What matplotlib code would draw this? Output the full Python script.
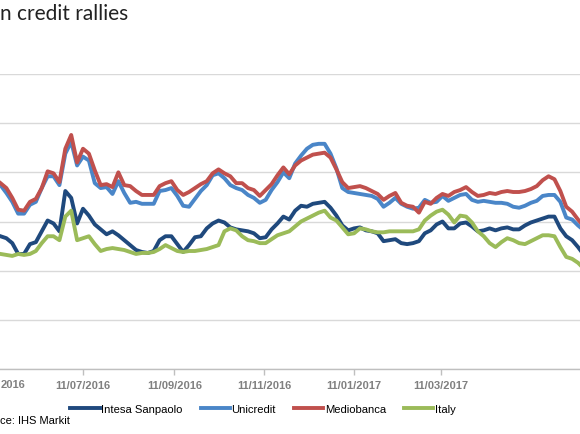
import matplotlib
matplotlib.use("Agg")
import matplotlib.pyplot as plt
import pandas as pd

# spreads, one value every 4 days from 16/05/2016
dates = pd.date_range("2016-05-16", periods=100, freq="4D")

intesa = [135, 133, 128, 117, 117, 127, 129, 140, 151, 148,
          140, 181, 174, 148, 163, 156, 147, 142, 137, 140,
          136, 131, 126, 121, 119, 118, 120, 131, 135, 135,
          127, 119, 126, 134, 135, 143, 148, 151, 149, 144,
          142, 141, 140, 138, 133, 134, 142, 148, 155, 152,
          161, 166, 165, 168, 169, 170, 164, 156, 146, 141,
          143, 144, 141, 140, 138, 130, 131, 132, 128, 127,
          128, 130, 138, 141, 147, 150, 143, 143, 148, 149,
          145, 140, 141, 143, 141, 143, 144, 142, 142, 146,
          149, 151, 153, 155, 155, 143, 135, 131, 124, 116]

unicredit = [187, 179, 170, 158, 158, 167, 170, 184, 196, 196,
             187, 219, 231, 207, 216, 212, 189, 184, 185, 178,
             191, 179, 169, 170, 168, 168, 168, 181, 182, 184,
             176, 166, 165, 173, 181, 187, 197, 199, 194, 187,
             184, 182, 177, 174, 169, 172, 182, 190, 200, 194,
             209, 217, 224, 228, 229, 229, 219, 204, 184, 180,
             179, 178, 177, 176, 173, 165, 169, 174, 168, 165,
             163, 164, 172, 169, 170, 176, 171, 174, 177, 178,
             172, 170, 171, 170, 169, 169, 168, 165, 164, 166,
             169, 171, 176, 177, 177, 170, 154, 152, 146, 141]

mediobanca = [189, 184, 174, 162, 161, 170, 173, 184, 201, 199,
              190, 224, 238, 210, 224, 219, 202, 187, 188, 185,
              200, 187, 186, 181, 177, 177, 177, 186, 189, 191,
              182, 177, 180, 184, 188, 191, 199, 203, 199, 196,
              189, 189, 184, 182, 176, 182, 188, 197, 205, 198,
              207, 212, 215, 218, 219, 220, 215, 203, 190, 184,
              185, 186, 184, 181, 178, 172, 176, 179, 169, 166,
              165, 159, 170, 168, 174, 178, 176, 180, 182, 185,
              180, 176, 177, 179, 178, 180, 181, 180, 180, 181,
              183, 186, 192, 196, 193, 181, 165, 160, 152, 145]

italy = [117, 116, 115, 117, 116, 117, 120, 128, 135, 135,
         131, 155, 161, 131, 133, 135, 127, 120, 122, 123,
         122, 121, 119, 117, 118, 118, 119, 122, 126, 123,
         120, 119, 120, 120, 121, 122, 124, 126, 140, 143,
         141, 135, 131, 130, 128, 128, 132, 136, 138, 140,
         145, 150, 153, 156, 159, 161, 154, 151, 144, 137,
         138, 143, 142, 140, 139, 139, 140, 140, 140, 140,
         140, 142, 151, 156, 160, 162, 157, 149, 156, 155,
         149, 140, 135, 128, 124, 129, 133, 131, 128, 127,
         130, 133, 136, 136, 135, 124, 114, 112, 108, 102]

names = ["Intesa Sanpaolo", "Unicredit", "Mediobanca", "Italy"]
colors = ["#1f497d", "#4a86c8", "#c0504d", "#9bbb59"]
series = [intesa, unicredit, mediobanca, italy]

tick_dates = ["2016-05-11", "2016-07-11", "2016-09-11",
              "2016-11-11", "2017-01-11", "2017-03-11"]

W, H = 580, 435
fig = plt.figure(figsize=(W / 100, H / 100), dpi=100)

# plot area runs a little past both edges of the picture (it is cropped)
ax = fig.add_axes([-20 / W, (H - 370) / H, 610 / W, 295 / H])

for name, col, vals in zip(names, colors, series):
    ax.plot(dates, vals, color=col, lw=2.8, label=name, solid_joinstyle="round")

ax.set_ylim(0, 300)
ax.set_yticks(range(0, 301, 50))
ax.tick_params(axis="y", left=False, labelleft=False)
ax.grid(axis="y", color="#d9d9d9", lw=1)
ax.set_axisbelow(True)

ref = pd.Timestamp("2016-07-11")
ppd = 1.4733  # pixels per day on the original
ax.set_xlim(ref - pd.Timedelta(days=(83 + 20) / ppd),
            ref + pd.Timedelta(days=(590 - 83) / ppd))
ticks = pd.to_datetime(tick_dates)
ax.set_xticks(ticks)
# first label is cut by the left edge in the original; only "2016" shows
ax.set_xticklabels([""] + [t.strftime("%d/%m/%Y") for t in ticks[1:]])
ax.tick_params(axis="x", length=4, width=1, color="#bfbfbf", pad=4)
tick_style = dict(family="Liberation Sans", weight="bold", size=8, color="#808080")
for lab in ax.get_xticklabels():
    lab.set_fontfamily(tick_style["family"])
    lab.set_fontweight(tick_style["weight"])
    lab.set_fontsize(tick_style["size"])
    lab.set_color(tick_style["color"])

for s in ["top", "left", "right"]:
    ax.spines[s].set_visible(False)
ax.spines["bottom"].set_color("#bfbfbf")
ax.spines["bottom"].set_linewidth(1)

fig.text(0.5 / W, (H - 385) / H, "2016", ha="left", va="center", **tick_style)

fig.text(0, (H - 20) / H, "n credit rallies", fontsize=15, family="Lato",
         color="#222222", va="baseline", ha="left")

fig.legend(loc="center", bbox_to_anchor=(263 / W, (H - 410) / H), ncol=4,
           frameon=False, prop={"family": "Liberation Sans", "size": 8.1},
           handlelength=2.6, handletextpad=0.15, columnspacing=1.6,
           borderpad=0, borderaxespad=0)

fig.text(0, (H - 421) / H, "ce: IHS Markit", fontsize=8, family="Liberation Sans",
         va="center", ha="left")

fig.savefig("out.png", dpi=100)
